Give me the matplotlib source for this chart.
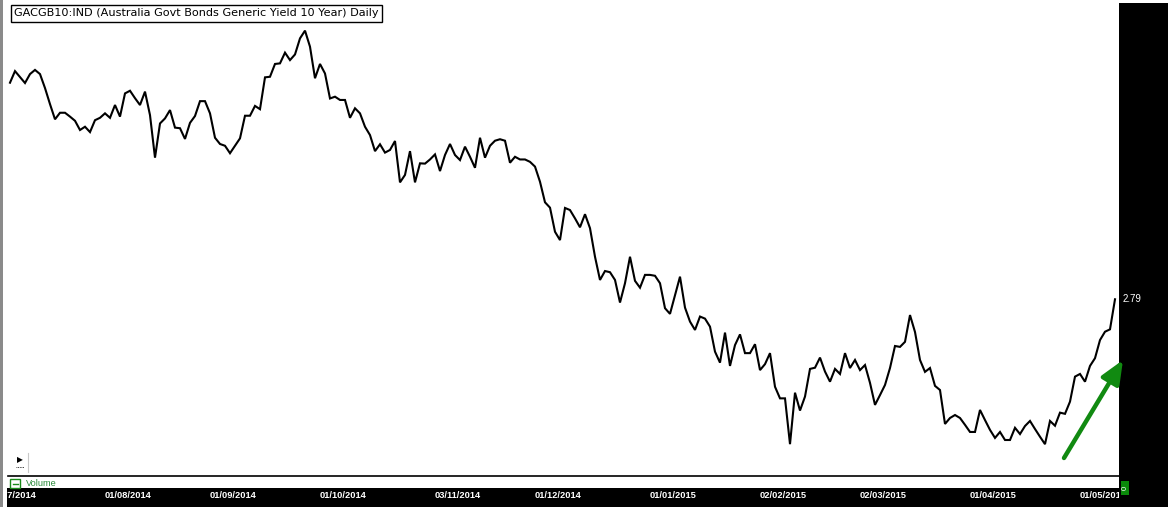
import numpy as np
import pandas as pd
import matplotlib
matplotlib.use("Agg")
import matplotlib.pyplot as plt
import matplotlib.transforms as mtransforms
from matplotlib.patches import Rectangle
from matplotlib.lines import Line2D

# Australia 10Y govt bond yield, daily closes from 30/06/2014 to 05/05/2015
start_date = "2014-06-30"
end_date = "2015-05-05"
yields = [
    3.518, 3.557, 3.537, 3.517, 3.547, 3.561, 3.547, 3.500, 3.446, 3.395,
    3.417, 3.417, 3.404, 3.390, 3.359, 3.370, 3.352, 3.392, 3.400, 3.415,
    3.400, 3.443, 3.404, 3.482, 3.491, 3.466, 3.443, 3.488, 3.409, 3.266,
    3.381, 3.398, 3.426, 3.367, 3.365, 3.329, 3.383, 3.406, 3.456, 3.456,
    3.415, 3.333, 3.312, 3.306, 3.281, 3.306, 3.331, 3.407, 3.407, 3.440,
    3.429, 3.536, 3.538, 3.581, 3.583, 3.619, 3.594, 3.613, 3.667, 3.693,
    3.639, 3.533, 3.581, 3.549, 3.465, 3.471, 3.460, 3.460, 3.400, 3.432,
    3.415, 3.370, 3.342, 3.288, 3.311, 3.283, 3.292, 3.322, 3.183, 3.208,
    3.288, 3.183, 3.247, 3.246, 3.260, 3.277, 3.221, 3.275, 3.312, 3.275,
    3.258, 3.303, 3.269, 3.232, 3.333, 3.266, 3.306, 3.323, 3.328, 3.323,
    3.249, 3.269, 3.260, 3.260, 3.252, 3.236, 3.185, 3.116, 3.098, 3.017,
    2.989, 3.097, 3.090, 3.062, 3.032, 3.076, 3.029, 2.933, 2.855, 2.885,
    2.881, 2.855, 2.779, 2.844, 2.933, 2.852, 2.829, 2.872, 2.872, 2.869,
    2.844, 2.760, 2.741, 2.804, 2.866, 2.762, 2.715, 2.687, 2.732, 2.725,
    2.698, 2.614, 2.577, 2.678, 2.566, 2.636, 2.672, 2.609, 2.609, 2.639,
    2.552, 2.572, 2.609, 2.496, 2.457, 2.457, 2.303, 2.476, 2.416, 2.463,
    2.556, 2.560, 2.594, 2.547, 2.513, 2.556, 2.539, 2.609, 2.559, 2.586,
    2.552, 2.569, 2.509, 2.435, 2.468, 2.502, 2.559, 2.633, 2.630, 2.647,
    2.737, 2.680, 2.586, 2.546, 2.559, 2.499, 2.485, 2.371, 2.391, 2.401,
    2.391, 2.368, 2.344, 2.344, 2.418, 2.384, 2.351, 2.324, 2.344, 2.317,
    2.317, 2.358, 2.337, 2.364, 2.381, 2.354, 2.328, 2.303, 2.381, 2.365,
    2.409, 2.405, 2.446, 2.530, 2.539, 2.513, 2.566, 2.592, 2.653, 2.681,
    2.689, 2.790,
]

tick_labels = ["01/07/2014", "01/08/2014", "01/09/2014", "01/10/2014", "03/11/2014",
               "01/12/2014", "01/01/2015", "02/02/2015", "02/03/2015", "01/04/2015",
               "01/05/2015"]

title = "GACGB10:IND (Australia Govt Bonds Generic Yield 10 Year) Daily"

dates = pd.bdate_range(start_date, end_date)
x = np.arange(len(dates))
tick_pos = [dates.get_loc(pd.to_datetime(t, dayfirst=True)) for t in tick_labels]

W, H = 1168, 507


def px_rect(x0, y0, x1, y1):
    # pixel box (top-left origin) -> figure fraction [l, b, w, h]
    return [x0 / W, 1 - y1 / H, (x1 - x0) / W, (y1 - y0) / H]


fig = plt.figure(figsize=(W / 100, H / 100), dpi=100)
fig.patch.set_facecolor("white")

# background panels (drawn under the axes)
fig.add_artist(Rectangle((1119 / W, 0), (W - 1119) / W, 504 / H, transform=fig.transFigure,
                         facecolor="black", edgecolor="none", zorder=-2))
fig.add_artist(Rectangle((0, 0), 3 / W, 1, transform=fig.transFigure,
                         facecolor="#8a8a8a", edgecolor="none", zorder=-2))

# price panel
ax = fig.add_axes(px_rect(8, 0, 1119, 476))
ax.plot(x, yields, color="black", lw=1.5, solid_joinstyle="miter")
ax.set_xlim(-0.4, len(dates) - 0.2)
ax.set_ylim(2.196, 3.796)
ax.set_xticks([])
ax.set_yticks([])
for s in ["top", "left", "right"]:
    ax.spines[s].set_visible(False)
ax.spines["bottom"].set_linewidth(1.2)

# date strip
ax_d = fig.add_axes(px_rect(7, 488, 1119, 507))
ax_d.set_facecolor("black")
ax_d.set_xlim(-0.6, len(dates) - 0.2)
ax_d.set_ylim(0, 1)
ax_d.set_xticks([])
ax_d.set_yticks([])
for s in ax_d.spines.values():
    s.set_visible(False)
for p, lab in zip(tick_pos, tick_labels):
    ax_d.text(p - 0.4, 0.62, lab, color="white", ha="center", va="center",
              fontsize=6.7, family="Liberation Sans", fontweight="bold", clip_on=True)

# last value label
tr = mtransforms.blended_transform_factory(fig.transFigure, ax.transData)
ax.text(1123 / W, yields[-1], f"{yields[-1]:.2f}", transform=tr, color="white",
        fontsize=7, family="Liberation Sans", va="center", ha="left", clip_on=False)

# title box
fig.text(14 / W, 1 - 13.5 / H, title, fontsize=8.1, family="DejaVu Sans",
         va="center", ha="left",
         bbox=dict(boxstyle="square,pad=0.3", fc="white", ec="black", lw=1))

# volume legend
fig.add_artist(Rectangle((10 / W, 1 - 488 / H), 10 / W, 9 / H, transform=fig.transFigure,
                         facecolor="none", edgecolor="#1a8a1a", lw=1))
fig.add_artist(Line2D([12.5 / W, 17.5 / W], [1 - 483.5 / H, 1 - 483.5 / H],
                      transform=fig.transFigure, color="#1a8a1a", lw=1))
fig.text(26 / W, 1 - 483.5 / H, "Volume", color="#2a8a3a", fontsize=6.6,
         family="Liberation Sans", va="center", ha="left")

# green zero-volume marker
fig.add_artist(Rectangle((1121 / W, 1 - 495 / H), 8 / W, 14 / H, transform=fig.transFigure,
                         facecolor="#0a8a0a", edgecolor="none", zorder=3))
fig.text(1125 / W, 1 - 488 / H, "0", color="white", fontsize=5.5, rotation=90,
         ha="center", va="center", family="Liberation Sans", zorder=4)

# small play button
fig.text(20 / W, 1 - 460 / H, "\u25b6", fontsize=5.5, ha="center", va="center", color="black")
fig.add_artist(Line2D([16 / W, 24 / W], [1 - 467 / H, 1 - 467 / H], transform=fig.transFigure,
                      color="black", lw=0.6, ls=(0, (1, 1))))
fig.add_artist(Line2D([28 / W, 28 / W], [1 - 472 / H, 1 - 453 / H], transform=fig.transFigure,
                      color="#c8c8c8", lw=0.8))

# green arrow
ax.annotate("", xy=(1123, H - 360), xycoords="figure pixels",
            xytext=(1064, H - 458), textcoords="figure pixels",
            arrowprops=dict(arrowstyle="-|>,head_width=0.6,head_length=1.4",
                            color="#118a11", lw=3.2, shrinkA=0, shrinkB=0),
            annotation_clip=False, zorder=10)

fig.savefig("out.png", dpi=100)
